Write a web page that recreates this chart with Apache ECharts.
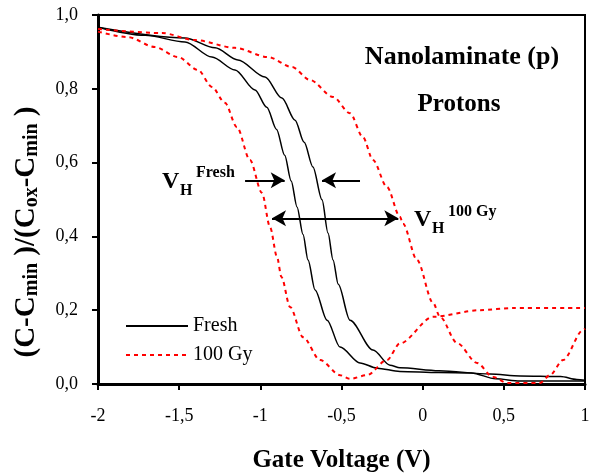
<!DOCTYPE html>
<html>
<head>
<meta charset="utf-8">
<script src="https://cdn.jsdelivr.net/npm/echarts@6/dist/echarts.min.js"></script>
<style>
html, body { margin: 0; padding: 0; background: #fff; }
#chart { width: 599px; height: 473px; }
</style>
</head>
<body>
<div id="chart"></div>
<script>
// gate voltage (V), normalised capacitance
var freshLeft = [[-2, 0.967], [-1.71, 0.945], [-1.464, 0.927], [-1.298, 0.886], [-1.156, 0.851], [-1.033, 0.797],
    [-0.96, 0.75], [-0.9, 0.69], [-0.85, 0.62], [-0.81, 0.55], [-0.774, 0.48], [-0.737, 0.405],
    [-0.706, 0.336], [-0.663, 0.255], [-0.589, 0.173], [-0.509, 0.1], [-0.386, 0.057], [-0.281, 0.043],
    [-0.14, 0.034], [0.1, 0.031], [0.3, 0.03], [0.45, 0.014], [0.6, 0.008], [0.8, 0.008], [1, 0.008]];
var freshRight = [[-2, 0.967], [-1.464, 0.938], [-1.279, 0.911], [-1.138, 0.878], [-0.971, 0.832], [-0.867, 0.775],
    [-0.786, 0.715], [-0.73, 0.655], [-0.676, 0.588], [-0.62, 0.499], [-0.583, 0.409], [-0.552, 0.336],
    [-0.52, 0.27], [-0.448, 0.173], [-0.306, 0.092], [-0.201, 0.051], [-0.14, 0.044], [0.1, 0.036],
    [0.415, 0.027], [0.6, 0.022], [0.85, 0.02], [0.95, 0.012], [1, 0.01]];
var gyLeft = [[-2, 0.955], [-1.815, 0.94], [-1.649, 0.913], [-1.507, 0.886], [-1.384, 0.851], [-1.298, 0.805],
    [-1.218, 0.762], [-1.144, 0.696], [-1.064, 0.607], [-0.99, 0.518], [-0.94, 0.425], [-0.897, 0.344],
    [-0.87, 0.29], [-0.817, 0.209], [-0.737, 0.127], [-0.632, 0.065], [-0.509, 0.024], [-0.448, 0.014],
    [-0.343, 0.024], [-0.22, 0.065], [-0.14, 0.11], [0.064, 0.182], [0.353, 0.2], [0.557, 0.206], [1, 0.206]];
var gyRight = [[-2, 0.962], [-1.606, 0.951], [-1.402, 0.932], [-1.156, 0.911], [-0.953, 0.886], [-0.805, 0.859],
    [-0.694, 0.824], [-0.552, 0.778], [-0.448, 0.734], [-0.368, 0.669], [-0.306, 0.607], [-0.22, 0.534],
    [-0.14, 0.453], [-0.121, 0.434], [-0.035, 0.336], [0.064, 0.22], [0.107, 0.182], [0.212, 0.111],
    [0.335, 0.057], [0.433, 0.019], [0.52, 0.003], [0.723, 0.003], [0.784, 0.024], [0.865, 0.065],
    [0.988, 0.146], [1, 0.15]];

// arrows: [x1, y1, x2, y2]
var arrowFreshIn = [-1.094, 0.552, -0.85, 0.552];
var arrowFreshOut = [-0.386, 0.552, -0.62, 0.552];
var arrowGy = [-0.928, 0.449, -0.15, 0.449];

var serif = 'Liberation Serif';

function arrow(a, both) {
    return [
        { coord: [a[0], a[1]], symbol: both ? 'arrow' : 'none' },
        { coord: [a[2], a[3]], symbol: 'arrow' }
    ];
}

var chart = echarts.init(document.getElementById('chart'));
chart.setOption({
    animation: false,
    backgroundColor: '#fff',
    grid: {
        left: 98, right: 14, top: 15, bottom: 89,
        outerBoundsMode: 'none',
        show: true, borderColor: '#000', borderWidth: 2
    },
    legend: {
        orient: 'vertical',
        left: 120, top: 311,
        itemWidth: 62, itemHeight: 20, itemGap: 9,
        itemStyle: { opacity: 0 },
        textStyle: { fontFamily: serif, fontSize: 20, color: '#000' },
        data: ['Fresh', '100 Gy']
    },
    xAxis: {
        type: 'value', min: -2, max: 1, interval: 0.5,
        name: 'Gate Voltage (V)', nameLocation: 'middle', nameGap: 64,
        nameTextStyle: { fontFamily: serif, fontSize: 25, fontWeight: 'bold', color: '#000' },
        axisLine: { onZero: false, lineStyle: { color: '#000', width: 3 } },
        axisTick: { length: 6, lineStyle: { width: 2, color: '#000' } },
        axisLabel: {
            margin: 23, fontFamily: serif, fontSize: 18, color: '#000',
            formatter: function (v) { return String(v).replace('.', ','); }
        },
        splitLine: { show: false }
    },
    yAxis: {
        type: 'value', min: 0, max: 1, interval: 0.2,
        axisLine: { show: true, onZero: false, lineStyle: { color: '#000', width: 3 } },
        axisTick: { show: true, length: 6, lineStyle: { width: 2, color: '#000' } },
        axisLabel: {
            margin: 20, fontFamily: serif, fontSize: 18, color: '#000',
            formatter: function (v) { return v.toFixed(1).replace('.', ','); }
        },
        splitLine: { show: false }
    },
    graphic: [
        {
            type: 'text', x: 27, y: 232, rotation: Math.PI / 2,
            style: {
                text: '(C-C{s|min} )/(C{s|ox}-C{s|min} )',
                font: 'bold 29px "Liberation Serif"', fill: '#000',
                align: 'center', verticalAlign: 'middle',
                rich: { s: { fontFamily: serif, fontWeight: 'bold', fontSize: 20, verticalAlign: 'bottom' } }
            }
        },
        { type: 'text', x: 462, y: 57, style: { text: 'Nanolaminate (p)', font: 'bold 26px "Liberation Serif"', fill: '#000', align: 'center', verticalAlign: 'middle' } },
        { type: 'text', x: 459, y: 105, style: { text: 'Protons', font: 'bold 25px "Liberation Serif"', fill: '#000', align: 'center', verticalAlign: 'middle' } },
        { type: 'text', x: 162, y: 170, style: { text: 'V', font: 'bold 24px "Liberation Serif"', fill: '#000' } },
        { type: 'text', x: 180, y: 183, style: { text: 'H', font: 'bold 16px "Liberation Serif"', fill: '#000' } },
        { type: 'text', x: 196, y: 165, style: { text: 'Fresh', font: 'bold 16px "Liberation Serif"', fill: '#000' } },
        { type: 'text', x: 414, y: 208, style: { text: 'V', font: 'bold 24px "Liberation Serif"', fill: '#000' } },
        { type: 'text', x: 432, y: 221, style: { text: 'H', font: 'bold 16px "Liberation Serif"', fill: '#000' } },
        { type: 'text', x: 448, y: 204, style: { text: '100 Gy', font: 'bold 16px "Liberation Serif"', fill: '#000' } }
    ],
    series: [
        {
            name: 'Fresh', type: 'line', data: freshLeft, showSymbol: false, symbol: 'none',
            smooth: 0.3, smoothMonotone: 'x',
            lineStyle: { color: '#000', width: 1.5 },
            itemStyle: { color: '#000' },
            markLine: {
                silent: true, symbol: ['none', 'arrow'], symbolSize: [12, 14],
                label: { show: false },
                lineStyle: { color: '#000', width: 2, type: 'solid' },
                data: [arrow(arrowFreshIn), arrow(arrowFreshOut), arrow(arrowGy, true)]
            }
        },
        {
            name: 'Fresh', type: 'line', data: freshRight, showSymbol: false, symbol: 'none',
            smooth: 0.3, smoothMonotone: 'x',
            lineStyle: { color: '#000', width: 1.5 },
            itemStyle: { color: '#000' }
        },
        {
            name: '100 Gy', type: 'line', data: gyLeft, showSymbol: false, symbol: 'none',
            smooth: 0.3, smoothMonotone: 'x',
            lineStyle: { color: '#ff0000', width: 2, type: [4, 4] },
            itemStyle: { color: '#ff0000' }
        },
        {
            name: '100 Gy', type: 'line', data: gyRight, showSymbol: false, symbol: 'none',
            smooth: 0.3, smoothMonotone: 'x',
            lineStyle: { color: '#ff0000', width: 2, type: [4, 4] },
            itemStyle: { color: '#ff0000' }
        }
    ]
});
</script>
</body>
</html>
